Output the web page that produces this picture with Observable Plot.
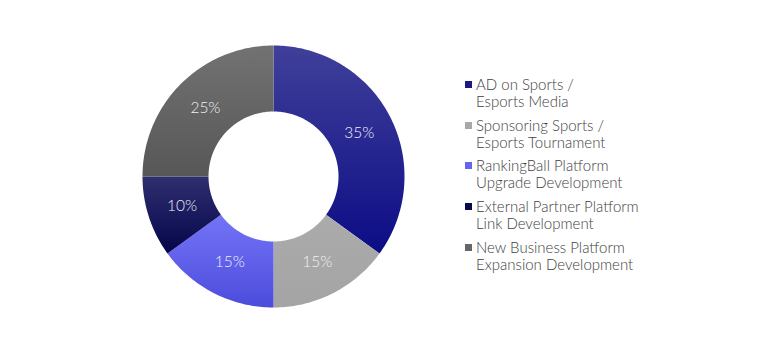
<!DOCTYPE html>
<html>
<head>
<meta charset="utf-8">
<script src="https://cdn.jsdelivr.net/npm/d3@7"></script>
<script src="https://cdn.jsdelivr.net/npm/@observablehq/plot@0.6"></script>
<style>
  html, body { margin: 0; padding: 0; background: #fff; }
  #wrap { position: relative; width: 768px; height: 353px; overflow: hidden; }
  #wrap svg { display: block; }
  .legend { position: absolute; left: 465px; top: 0; font-family: Lato, "Open Sans", sans-serif; font-weight: 300; font-size: 15px; color: #3e3e3e; }
  .item { position: absolute; left: 0; white-space: nowrap; line-height: 17px; }
  .sw { position: absolute; left: 0; top: 5px; width: 7px; height: 7px; }
  .txt { position: absolute; left: 11px; top: 0; }
</style>
</head>
<body>
<div id="wrap"></div>
<script>
// ---- data ----
const categories = [
  "AD on Sports / Esports Media",
  "Sponsoring Sports / Esports Tournament",
  "RankingBall Platform Upgrade Development",
  "External Partner Platform Link Development",
  "New Business Platform Expansion Development"
];
const legendLines = [
  ["AD on Sports /", "Esports Media"],
  ["Sponsoring Sports /", "Esports Tournament"],
  ["RankingBall Platform", "Upgrade Development"],
  ["External Partner Platform", "Link Development"],
  ["New Business Platform", "Expansion Development"]
];
const values = [35, 15, 15, 10, 25];
const labels = ["35%", "15%", "15%", "10%", "25%"];
const swatchColors = ["#1a1a82", "#a8a8a8", "#6464ee", "#0a0a4a", "#666666"];
const gradTop = ["#40409a", "#ababab", "#7474f8", "#2e2e70", "#727272"];
const gradBottom = ["#0c0c86", "#a4a4a4", "#4c4cdc", "#05054a", "#575757"];

// ---- geometry computed from values ----
const total = d3.sum(values);
const inner = 65 / 131;
const labelR = 0.735;
let acc = 0;
const slices = values.map((v, i) => {
  const a0 = acc / total * 2 * Math.PI;
  acc += v;
  const a1 = acc / total * 2 * Math.PI;
  const n = Math.max(8, Math.ceil((a1 - a0) / (Math.PI / 180)));
  const outerPts = d3.range(n + 1).map(k => {
    const a = a0 + (a1 - a0) * k / n;
    return [Math.sin(a), -Math.cos(a)];
  });
  const innerPts = d3.range(n + 1).map(k => {
    const a = a1 - (a1 - a0) * k / n;
    return [inner * Math.sin(a), -inner * Math.cos(a)];
  });
  const ring = [...outerPts, ...innerPts, outerPts[0]];
  const am = (a0 + a1) / 2;
  return {
    category: categories[i],
    label: labels[i],
    lx: labelR * Math.sin(am),
    ly: -labelR * Math.cos(am),
    geometry: {type: "Polygon", coordinates: [ring]}
  };
});
const features = slices.map(s => ({type: "Feature", properties: {category: s.category}, geometry: s.geometry}));

const chart = Plot.plot({
  width: 768,
  height: 353,
  marginLeft: 142,
  marginRight: 364,
  marginTop: 45,
  marginBottom: 46,
  projection: {type: "identity", domain: {type: "MultiPoint", coordinates: [[-1, -1], [1, 1]]}},
  color: {type: "ordinal", domain: categories, range: categories.map((c, i) => `url(#grad${i})`)},
  style: {fontFamily: "Lato, 'Open Sans', sans-serif", background: "white"},
  marks: [
    Plot.geo(features, {fill: d => d.properties.category}),
    Plot.text(slices, {x: "lx", y: "ly", text: "label", fill: "#f0f0f6", fontSize: 15.5, fontWeight: 300})
  ]
});

// gradient definitions
const defs = document.createElementNS("http://www.w3.org/2000/svg", "defs");
categories.forEach((c, i) => {
  const g = document.createElementNS("http://www.w3.org/2000/svg", "linearGradient");
  g.setAttribute("id", `grad${i}`);
  g.setAttribute("x1", "0"); g.setAttribute("y1", "0");
  g.setAttribute("x2", "0"); g.setAttribute("y2", "1");
  [[0, gradTop[i]], [1, gradBottom[i]]].forEach(([o, col]) => {
    const s = document.createElementNS("http://www.w3.org/2000/svg", "stop");
    s.setAttribute("offset", o);
    s.setAttribute("stop-color", col);
    g.appendChild(s);
  });
  defs.appendChild(g);
});
chart.insertBefore(defs, chart.firstChild);

const wrap = document.getElementById("wrap");
wrap.appendChild(chart);

// legend
const legend = document.createElement("div");
legend.className = "legend";
legendLines.forEach((lines, i) => {
  const item = document.createElement("div");
  item.className = "item";
  item.style.top = (76 + i * 40.7) + "px";
  const sw = document.createElement("div");
  sw.className = "sw";
  sw.style.background = swatchColors[i];
  const txt = document.createElement("div");
  txt.className = "txt";
  txt.innerHTML = lines.join("<br>");
  item.appendChild(sw);
  item.appendChild(txt);
  legend.appendChild(item);
});
wrap.appendChild(legend);
</script>
</body>
</html>
